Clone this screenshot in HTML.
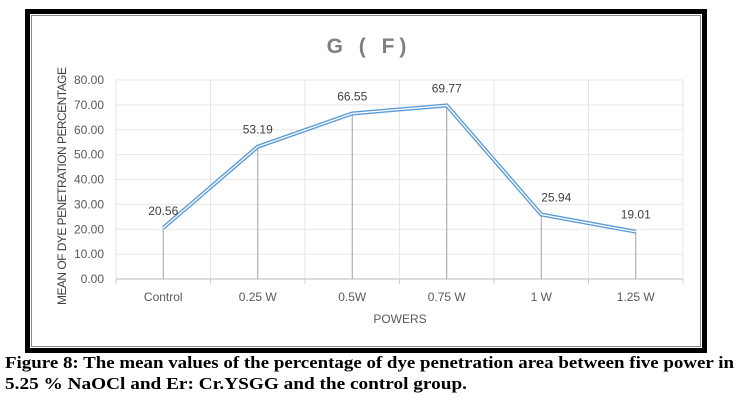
<!DOCTYPE html>
<html><head><meta charset="utf-8"><style>
body{margin:0;width:739px;height:400px;background:#fff;overflow:hidden}
svg{position:absolute;left:0;top:0}
</style></head><body>
<svg width="739" height="400">
<rect x="27.5" y="11.5" width="677" height="339" fill="#fff" stroke="#000" stroke-width="5"/>
<rect x="31.5" y="15.5" width="669" height="331" fill="none" stroke="#888" stroke-width="1"/>
<text x="369" y="53" text-anchor="middle" font-family="Liberation Sans, sans-serif" font-size="21" font-weight="bold" fill="#7f7f7f" letter-spacing="5">G ( F)</text>
<g id="grid"></g>
<g id="axes"></g>
<g id="marks"></g>
<text transform="translate(66,186) rotate(-90)" text-anchor="middle" font-family="Liberation Sans, sans-serif" font-size="12" fill="#404040" textLength="238">MEAN OF DYE PENETRATION PERCENTAGE</text>
<text x="400" y="323" text-anchor="middle" font-family="Liberation Sans, sans-serif" font-size="12" fill="#595959">POWERS</text>
<text x="5" y="368" font-family="Liberation Serif, serif" font-size="17" font-weight="bold" textLength="729" lengthAdjust="spacingAndGlyphs">Figure 8: The mean values of the percentage of dye penetration area between five power in</text>
<text x="5" y="389" font-family="Liberation Serif, serif" font-size="17" font-weight="bold" textLength="462" lengthAdjust="spacingAndGlyphs">5.25 % NaOCl and Er: Cr.YSGG and the control group.</text>
</svg>
<script>
const categories=["Control","0.25 W","0.5W","0.75 W","1 W","1.25 W"];
const values=[20.56,53.19,66.55,69.77,25.94,19.01];
const yTicks=[0,10,20,30,40,50,60,70,80];
const ns="http://www.w3.org/2000/svg";
const L=116,R=683,T=80,B=279,yMax=80;
const bw=(R-L)/categories.length;
const x=i=>L+bw*(i+0.5);
const y=v=>B-(v/yMax)*(B-T);
function mk(p,tag,a){const e=document.createElementNS(ns,tag);for(const k in a)e.setAttribute(k,a[k]);p.appendChild(e);return e;}
const grid=document.getElementById('grid'),axes=document.getElementById('axes'),marks=document.getElementById('marks');
yTicks.forEach(t=>{
 if(t>0){const g=mk(grid,'line',{x1:L,x2:R,y1:y(t),y2:y(t),stroke:'#e6e6e6','stroke-width':1});
 
 }
 const tx=mk(axes,'text',{x:L-12,y:y(t)+4,'text-anchor':'end','font-family':'Liberation Sans, sans-serif','font-size':12,fill:'#595959'});
 tx.textContent=t.toFixed(2);
 
 
});
for(let i=0;i<=categories.length;i++){
 const xx=L+bw*i;
 const g=mk(grid,'line',{x1:xx,x2:xx,y1:T,y2:B,stroke:'#e6e6e6','stroke-width':1});
 
 
 const tk=mk(axes,'line',{x1:xx,x2:xx,y1:B,y2:B+5,stroke:'#d0d0d0','stroke-width':1});
 
 
}
const base=mk(axes,'line',{x1:L,x2:R,y1:B,y2:B,stroke:'#d0d0d0','stroke-width':1.5});


categories.forEach((c,i)=>{
 const tx=mk(axes,'text',{x:x(i),y:B+22,'text-anchor':'middle','font-family':'Liberation Sans, sans-serif','font-size':12,fill:'#595959'});
 tx.textContent=c;
 
 
 const d=mk(marks,'line',{x1:x(i),x2:x(i),y1:y(values[i]),y2:B,stroke:'#a0a0a0','stroke-width':1});
 
 
});
const pts=values.map((v,i)=>x(i)+','+y(v)).join(' ');
const l1=mk(marks,'polyline',{points:pts,fill:'none',stroke:'#5b9bd5','stroke-width':4,'stroke-linejoin':'miter'});


const l2=mk(marks,'polyline',{points:pts,fill:'none',stroke:'#fff','stroke-width':1.3});


values.forEach((v,i)=>{
 const tx=mk(marks,'text',{x:x(i)+(i===4?15:0),y:y(v)-13,'text-anchor':'middle','font-family':'Liberation Sans, sans-serif','font-size':12,fill:'#404040'});
 tx.textContent=v.toFixed(2);
 
 
});
</script>
</body></html>
